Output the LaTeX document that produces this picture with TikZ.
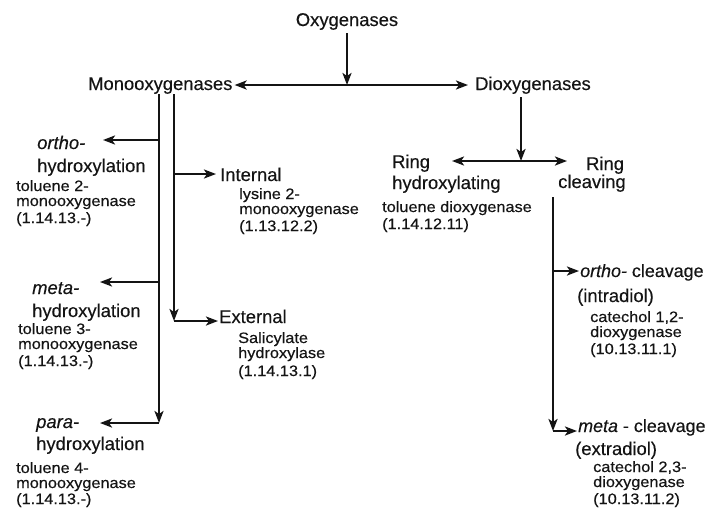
\documentclass[tikz,border=0pt]{standalone}
\usepackage{fontspec}
\setmainfont{Liberation Sans}
\newfontfamily\bigfam[UprightFeatures={FakeBold=0.3},ItalicFeatures={FakeBold=0.3}]{Liberation Sans}
\newfontfamily\smallfam[FakeStretch=1.08,UprightFeatures={FakeBold=0.3}]{Liberation Sans}
\usetikzlibrary{arrows.meta}
\definecolor{ink}{RGB}{20,20,20}
\tikzset{
  lab/.style={inner sep=0pt, anchor=base west, text=ink, font=\bigfam\fontsize{18.4}{20}\selectfont},
  labn/.style={lab, font=\bigfam\fontsize{17.9}{20}\selectfont},
  det/.style={inner sep=0pt, anchor=base west, text=ink, font=\smallfam\fontsize{15.1}{16}\selectfont},
  con/.style={line width=2.2pt, draw=ink},
  arr/.style={con, -{Stealth[length=12pt,width=9pt,inset=3pt]}},
  dbl/.style={con, {Stealth[length=12pt,width=9pt,inset=3pt]}-{Stealth[length=12pt,width=9pt,inset=3pt]}},
}
\begin{document}
\begin{tikzpicture}[x=1pt,y=-1pt]
\fill[white] (0,0) rectangle (708,507);
\useasboundingbox (0,0) rectangle (708,507);

% top level
\node[lab, anchor=base] (oxy) at (347,26) {Oxygenases};
\node[lab] (mono) at (88,90) {Monooxygenases};
\node[lab] (dio) at (475,90) {Dioxygenases};
\coordinate (jt) at (347,85);
\draw[arr] ([yshift=-3pt]oxy.south) -- (jt);
\draw[dbl] ([xshift=2pt]mono.east |- jt) -- ([xshift=-7pt]dio.west |- jt);

% monooxygenase branches
\node[lab] (orthoL) at (37,149) {\textit{ortho-}};
\node[lab] (hydA) at (37,172) {hydroxylation};
\node[det] (tolA1) at (16,191) {toluene 2-};
\node[det] (tolA2) at (16,206) {monooxygenase};
\node[det] (tolA3) at (16,223) {(1.14.13.-)};

\node[lab] (metaL) at (32,294) {\textit{meta-}};
\node[lab] (hydB) at (32,317) {hydroxylation};
\node[det] (tolB1) at (18,334) {toluene 3-};
\node[det] (tolB2) at (18,349) {monooxygenase};
\node[det] (tolB3) at (18,366) {(1.14.13.-)};

\node[lab] (paraL) at (36,428) {\textit{para-}};
\node[lab] (hydC) at (36,450) {hydroxylation};
\node[det] (tolC1) at (16,473) {toluene 4-};
\node[det] (tolC2) at (16,488) {monooxygenase};
\node[det] (tolC3) at (16,504) {(1.14.13.-)};

\node[lab] (intl) at (220,181) {Internal};
\node[det] (lys1) at (239,199) {lysine 2-};
\node[det] (lys2) at (239,214) {monooxygenase};
\node[det] (lys3) at (239,231) {(1.13.12.2)};

\node[lab] (ext) at (219,323) {External};
\node[det] (sal1) at (238,343) {Salicylate};
\node[det] (sal2) at (238,358) {hydroxylase};
\node[det] (sal3) at (238,376) {(1.14.13.1)};

\coordinate (mt1) at (159,94);
\coordinate (mt2) at (174,94);
\coordinate (mb1) at (159,423);
\coordinate (mb2) at (174,321);
\coordinate (ob) at (159,140);
\coordinate (oa) at (103,140);
\coordinate (mb) at (159,282);
\coordinate (ma) at (100,282);
\coordinate (pa) at (100,423);
\coordinate (ia) at (174,174);

\draw[arr] (mt1) -- (mb1);
\draw[arr] (mb1) -- (pa);
\draw[arr] (ob) -- (oa);
\draw[arr] (mb) -- (ma);
\draw[arr] (mt2) -- (mb2);
\draw[arr, shorten >=4pt] (ia) -- (ia -| intl.west);
\draw[arr, shorten >=1pt] (mb2) -- (mb2 -| ext.west);

% dioxygenase branches
\node[lab] (ringL) at (392,168) {Ring};
\node[lab] (ringLh) at (392,189) {hydroxylating};
\node[det] (tdo1) at (382,212) {toluene dioxygenase};
\node[det] (tdo2) at (382,229) {(1.14.12.11)};

\node[lab] (ringR) at (586,170) {Ring};
\node[lab] (ringRc) at (558,188) {cleaving};

\node[labn] (orthoC) at (580,277) {\textit{ortho-} cleavage};
\node[lab] (intra) at (577,302) {(intradiol)};
\node[det] (cat1) at (590,322) {catechol 1,2-};
\node[det] (cat2) at (590,337) {dioxygenase};
\node[det] (cat3) at (590,354) {(10.13.11.1)};

\node[labn] (metaC) at (578,432) {\textit{meta} - cleavage};
\node[lab] (extra) at (575,455) {(extradiol)};
\node[det] (cat4) at (593,472) {catechol 2,3-};
\node[det] (cat5) at (593,487) {dioxygenase};
\node[det] (cat6) at (593,504) {(10.13.11.2)};

\coordinate (dt) at (521,97);
\coordinate (dj) at (521,161);
\coordinate (rl) at (452,161);
\coordinate (rr) at (567,161);
\coordinate (ct) at (553,197);
\coordinate (cb) at (553,431);
\coordinate (co) at (553,271);

\draw[arr] (dt) -- (dj);
\draw[dbl] (rl) -- (rr);
\draw[arr] (ct) -- (cb);
\draw[arr, shorten >=1pt] (co) -- (co -| orthoC.west);
\draw[arr, shorten >=1pt] (cb) -- (cb -| metaC.west);
\end{tikzpicture}
\end{document}
